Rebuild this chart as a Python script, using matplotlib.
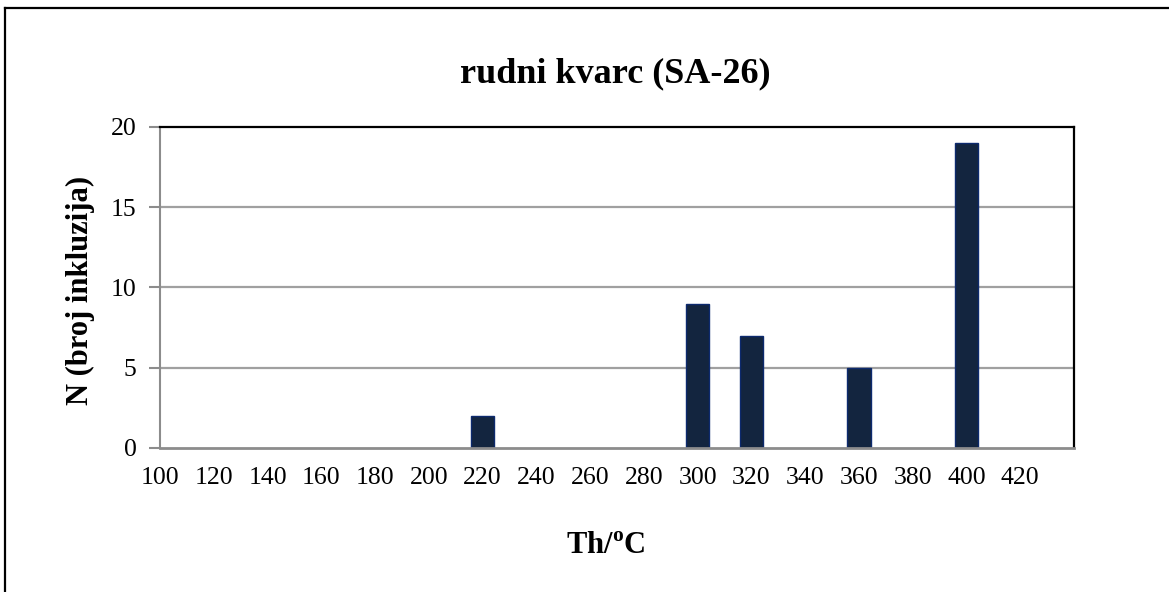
import numpy as np
import matplotlib
matplotlib.use('Agg')
import matplotlib.pyplot as plt

# temperature classes (Th, °C) and number of inclusions
temperature = [100, 120, 140, 160, 180, 200, 220, 240, 260, 280, 300, 320, 340, 360, 380, 400, 420]
broj = [0, 0, 0, 0, 0, 0, 2, 0, 0, 0, 9, 7, 0, 5, 0, 19, 0]
y_ticks = [0, 5, 10, 15, 20]

plt.rcParams['font.family'] = ['Liberation Serif', 'DejaVu Serif']
plt.rcParams['mathtext.fontset'] = 'custom'
plt.rcParams['mathtext.rm'] = 'Liberation Serif'
plt.rcParams['mathtext.bf'] = 'Liberation Serif:bold'

W, H = 1169, 592
fig = plt.figure(figsize=(W / 100, H / 100), dpi=100)
ax = fig.add_axes([160 / W, (H - 448) / H, (1074 - 160) / W, (448 - 127) / H])

pos = np.arange(len(temperature))
bars = [b if b > 0 else np.nan for b in broj]
ax.bar(pos, bars, width=0.43, color='#13253f', edgecolor='#0d2a6e', linewidth=1.0, zorder=3)

ax.set_xlim(0, len(temperature))
ax.set_ylim(0, 20)
ax.set_xticks(pos)
ax.set_xticklabels([str(t) for t in temperature], fontsize=18.5)
ax.set_yticks(y_ticks)
ax.set_yticklabels([str(v) for v in y_ticks], fontsize=18.5)
ax.tick_params(axis='x', length=0, pad=14)
ax.tick_params(axis='y', length=8, width=1.5, color='#8c8c8c', pad=9)

for v in y_ticks[1:-1]:
    ax.axhline(v, color='#a0a0a0', linewidth=1.6, zorder=1)

ax.spines['left'].set_color('#8c8c8c')
ax.spines['left'].set_linewidth(1.5)
ax.spines['bottom'].set_color('#8c8c8c')
ax.spines['bottom'].set_linewidth(2.0)
ax.spines['bottom'].set_zorder(4)
ax.spines['top'].set_color('black')
ax.spines['top'].set_linewidth(1.6)
ax.spines['right'].set_color('black')
ax.spines['right'].set_linewidth(1.6)

fig.text(615 / W, 1 - 74 / H, 'rudni kvarc (SA-26)', fontsize=26, fontweight='bold',
         ha='center', va='center')
fig.text(80 / W, 1 - 290 / H, 'N (broj inkluzija)', fontsize=22, fontweight='bold',
         rotation=90, ha='center', va='center')
fig.text(606 / W, 1 - 547 / H, r'Th/$^{\mathbf{o}}$C', fontsize=22, fontweight='bold',
         ha='center', va='center')

# outer chart frame (only left and top edges fall inside the image)
fig.add_artist(plt.Line2D([5 / W, 5 / W], [0, 1 - 8 / H], color='black', linewidth=1.6,
                          transform=fig.transFigure))
fig.add_artist(plt.Line2D([5 / W, 1], [1 - 8 / H, 1 - 8 / H], color='black', linewidth=1.6,
                          transform=fig.transFigure))

plt.savefig('out.png', dpi=100)
